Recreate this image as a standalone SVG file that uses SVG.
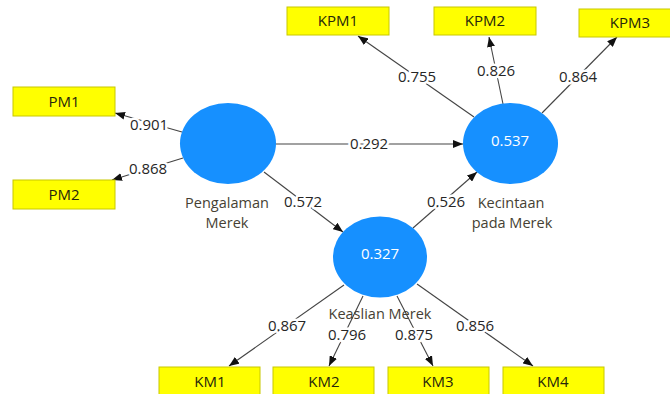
<svg xmlns="http://www.w3.org/2000/svg" width="670" height="394" viewBox="0 0 670 394">
  <defs>
    <marker id="arrow" viewBox="0 0 10 8" refX="10" refY="4" markerWidth="10" markerHeight="8" markerUnits="userSpaceOnUse" orient="auto">
      <path d="M0,0 L10,4 L0,8 Z" fill="#111"/>
    </marker>
  </defs>
  <style>
    .ind rect { fill: #ffff00; stroke: #c8c800; stroke-width: 1; }
    .ind text { font-family: "Open Sans", "DejaVu Sans", sans-serif; font-size: 15px; fill: #26260c; text-anchor: middle; }
    .lat ellipse { fill: #1690ff; }
    .lat .r2 { font-family: "Open Sans", "DejaVu Sans", sans-serif; font-size: 15px; fill: #ffffff; text-anchor: middle; }
    .lat .name { font-family: "Open Sans", "DejaVu Sans", sans-serif; font-size: 14.5px; fill: #463f33; text-anchor: middle; }
    #edges line { stroke: #444; stroke-width: 1.1; marker-end: url(#arrow); }
    #edges text { font-family: "Open Sans", "DejaVu Sans", sans-serif; font-size: 15px; fill: #262626; text-anchor: middle; stroke: #fff; stroke-width: 5; paint-order: stroke; stroke-linejoin: round; }
  </style>
  <rect width="670" height="394" fill="#ffffff"/>

  <!-- connectors with path coefficients / loadings -->
  <g id="edges">
    <line x1="182" y1="132" x2="115" y2="113"/>
    <line x1="183" y1="158" x2="112" y2="180"/>
    <line x1="276" y1="144" x2="463" y2="144"/>
    <line x1="264" y1="172" x2="343" y2="232"/>
    <line x1="413" y1="228" x2="477" y2="172"/>
    <line x1="474" y1="117" x2="358" y2="36"/>
    <line x1="503" y1="104" x2="489" y2="37"/>
    <line x1="542" y1="113" x2="617" y2="37"/>
    <line x1="344" y1="285" x2="229" y2="366"/>
    <line x1="363" y1="296" x2="329" y2="366"/>
    <line x1="397" y1="296" x2="433" y2="366"/>
    <line x1="417" y1="284" x2="533" y2="366"/>
    <text x="149" y="130">0.901</text>
    <text x="148" y="174">0.868</text>
    <text x="369" y="149">0.292</text>
    <text x="303" y="207">0.572</text>
    <text x="446" y="207">0.526</text>
    <text x="417" y="82">0.755</text>
    <text x="496" y="76">0.826</text>
    <text x="578" y="82">0.864</text>
    <text x="287" y="331">0.867</text>
    <text x="347" y="340">0.796</text>
    <text x="414" y="340">0.875</text>
    <text x="475" y="331">0.856</text>
  </g>

  <!-- latent constructs -->
  <g id="pengalaman" class="lat">
    <ellipse cx="228" cy="143.5" rx="48" ry="40.5"/>
    <text class="name" x="227" y="208">Pengalaman</text>
    <text class="name" x="227" y="228">Merek</text>
  </g>
  <g id="kecintaan" class="lat">
    <ellipse cx="510.5" cy="143.5" rx="47.5" ry="40.5"/>
    <text class="r2" x="510" y="146">0.537</text>
    <text class="name" x="511" y="208">Kecintaan</text>
    <text class="name" x="512" y="228">pada Merek</text>
  </g>
  <g id="keaslian" class="lat">
    <ellipse cx="380" cy="257" rx="47" ry="40.5"/>
    <text class="r2" x="380" y="259">0.327</text>
    <text class="name" x="380" y="319">Keaslian Merek</text>
  </g>

  <!-- indicators -->
  <g id="PM1" class="ind"><rect x="13" y="87" width="102" height="29"/><text x="64" y="107">PM1</text></g>
  <g id="PM2" class="ind"><rect x="13" y="180" width="102" height="29"/><text x="64" y="200">PM2</text></g>
  <g id="KPM1" class="ind"><rect x="287" y="7" width="102" height="28"/><text x="338" y="26">KPM1</text></g>
  <g id="KPM2" class="ind"><rect x="434" y="7" width="102" height="28"/><text x="485" y="26">KPM2</text></g>
  <g id="KPM3" class="ind"><rect x="579" y="9" width="102" height="28"/><text x="630" y="28">KPM3</text></g>
  <g id="KM1" class="ind"><rect x="159" y="367" width="101" height="30"/><text x="210" y="387">KM1</text></g>
  <g id="KM2" class="ind"><rect x="273" y="367" width="101" height="30"/><text x="324" y="387">KM2</text></g>
  <g id="KM3" class="ind"><rect x="388" y="367" width="101" height="30"/><text x="438" y="387">KM3</text></g>
  <g id="KM4" class="ind"><rect x="503" y="367" width="101" height="30"/><text x="553" y="387">KM4</text></g>
</svg>
